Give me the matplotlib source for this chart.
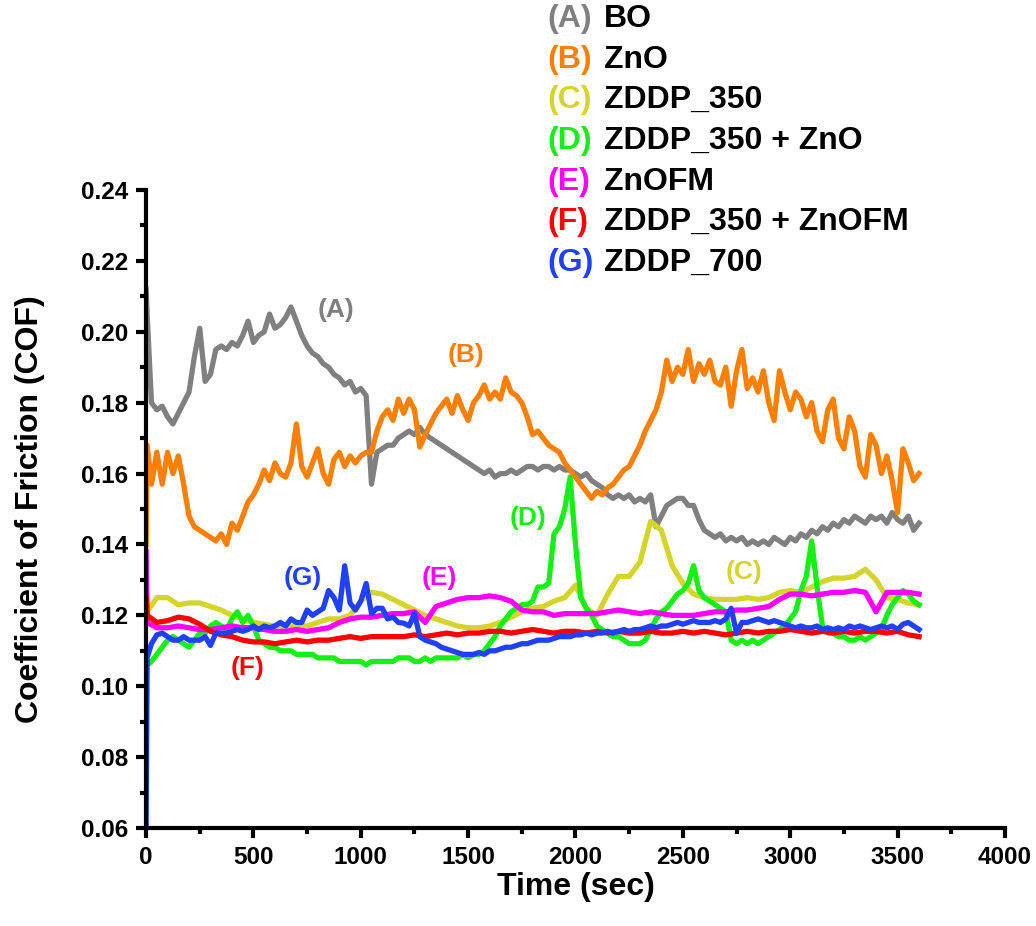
import numpy as np
import matplotlib
matplotlib.use('Agg')
import matplotlib.pyplot as plt
from matplotlib.ticker import MultipleLocator

plt.rcParams['font.family'] = ['Liberation Sans', 'DejaVu Sans']
plt.rcParams['font.weight'] = 'bold'

# time grids (sec)
t_fine = np.concatenate([[0, 5], np.arange(25, 3601, 25)])
t_coarse = np.concatenate([[0, 5], np.arange(50, 3601, 50)])

# (A) BO - on t_fine
cof_A = [0.212, 0.205,
         0.180, 0.178, 0.179, 0.176, 0.174, 0.177, 0.180, 0.183,
         0.193, 0.201, 0.186, 0.188, 0.195, 0.196, 0.195, 0.197,
         0.196, 0.199, 0.203, 0.197, 0.199, 0.200, 0.205, 0.201,
         0.202, 0.204, 0.207, 0.203, 0.199, 0.196, 0.194, 0.193,
         0.191, 0.190, 0.188, 0.187, 0.185, 0.186, 0.183, 0.184,
         0.182, 0.157, 0.166, 0.167, 0.168, 0.168, 0.170, 0.171,
         0.172, 0.171, 0.173, 0.171, 0.170, 0.169, 0.168, 0.167,
         0.166, 0.165, 0.164, 0.163, 0.162, 0.161, 0.160, 0.161,
         0.159, 0.160, 0.160, 0.161, 0.160, 0.161, 0.162, 0.162,
         0.161, 0.162, 0.162, 0.161, 0.162, 0.161, 0.161, 0.160,
         0.159, 0.160, 0.158, 0.157, 0.156, 0.154, 0.153, 0.154,
         0.153, 0.154, 0.152, 0.153, 0.152, 0.154, 0.145, 0.148,
         0.151, 0.152, 0.153, 0.153, 0.151, 0.151, 0.147, 0.144,
         0.143, 0.142, 0.143, 0.141, 0.142, 0.141, 0.142, 0.140,
         0.141, 0.140, 0.141, 0.140, 0.142, 0.141, 0.140, 0.142,
         0.141, 0.143, 0.142, 0.144, 0.143, 0.145, 0.144, 0.146,
         0.145, 0.147, 0.146, 0.148, 0.147, 0.146, 0.148, 0.147,
         0.148, 0.146, 0.149, 0.147, 0.146, 0.148, 0.144, 0.146]

# (B) ZnO - on t_fine
cof_B = [0.140, 0.168,
         0.157, 0.166, 0.157, 0.166, 0.160, 0.165, 0.157, 0.148,
         0.145, 0.144, 0.143, 0.142, 0.141, 0.143, 0.140, 0.146,
         0.144, 0.148, 0.152, 0.154, 0.157, 0.161, 0.158, 0.163,
         0.160, 0.159, 0.163, 0.174, 0.162, 0.159, 0.163, 0.167,
         0.160, 0.157, 0.164, 0.166, 0.162, 0.165, 0.163, 0.165,
         0.166, 0.166, 0.172, 0.176, 0.178, 0.175, 0.181, 0.177,
         0.181, 0.178, 0.1675, 0.171, 0.174, 0.177, 0.179, 0.181,
         0.177, 0.182, 0.178, 0.175, 0.180, 0.182, 0.185, 0.181,
         0.183, 0.181, 0.187, 0.183, 0.182, 0.180, 0.176, 0.171,
         0.172, 0.170, 0.168, 0.167, 0.166, 0.163, 0.161, 0.159,
         0.157, 0.155, 0.153, 0.155, 0.154, 0.156, 0.157, 0.159,
         0.161, 0.162, 0.165, 0.168, 0.172, 0.175, 0.178, 0.183,
         0.192, 0.186, 0.190, 0.188, 0.195, 0.186, 0.191, 0.188,
         0.192, 0.186, 0.185, 0.190, 0.179, 0.189, 0.195, 0.184,
         0.187, 0.183, 0.189, 0.180, 0.175, 0.189, 0.183, 0.178,
         0.183, 0.181, 0.176, 0.180, 0.172, 0.169, 0.178, 0.181,
         0.170, 0.167, 0.176, 0.172, 0.162, 0.159, 0.171, 0.168,
         0.160, 0.165, 0.158, 0.149, 0.167, 0.163, 0.158, 0.160]

# (C) ZDDP_350 - on t_coarse
cof_C = [0.119, 0.121,
         0.125, 0.125, 0.123, 0.1235, 0.1235, 0.1225, 0.1215, 0.120,
         0.119, 0.118, 0.1175, 0.117, 0.117, 0.117, 0.117, 0.118,
         0.119, 0.119, 0.120, 0.124, 0.1265, 0.126, 0.1245, 0.123,
         0.1215, 0.120, 0.119, 0.118, 0.117, 0.1165, 0.1165, 0.117,
         0.118, 0.1195, 0.121, 0.122, 0.1225, 0.124, 0.125, 0.1285,
         0.122, 0.120, 0.126, 0.131, 0.131, 0.135, 0.1465, 0.144,
         0.134, 0.129, 0.126, 0.125, 0.1245, 0.1245, 0.1245, 0.125,
         0.1245, 0.125, 0.1265, 0.127, 0.1265, 0.128, 0.1295, 0.1305,
         0.1305, 0.131, 0.133, 0.130, 0.125, 0.1245, 0.1235, 0.123]

# (D) ZDDP_350 + ZnO - on t_fine
cof_D = [0.105, 0.106,
         0.107, 0.109, 0.111, 0.113, 0.114, 0.113, 0.112, 0.111,
         0.113, 0.115, 0.115, 0.117, 0.118, 0.117, 0.116, 0.119,
         0.121, 0.118, 0.120, 0.117, 0.113, 0.112, 0.111, 0.111,
         0.110, 0.110, 0.110, 0.109, 0.109, 0.109, 0.109, 0.108,
         0.108, 0.108, 0.108, 0.107, 0.107, 0.107, 0.107, 0.107,
         0.106, 0.107, 0.107, 0.107, 0.107, 0.107, 0.108, 0.108,
         0.108, 0.107, 0.107, 0.108, 0.107, 0.108, 0.108, 0.108,
         0.108, 0.108, 0.109, 0.108, 0.109, 0.109, 0.110, 0.112,
         0.114, 0.117, 0.119, 0.121, 0.122, 0.123, 0.123, 0.124,
         0.128, 0.128, 0.129, 0.143, 0.145, 0.150, 0.159, 0.140,
         0.125, 0.122, 0.120, 0.117, 0.116, 0.115, 0.114, 0.114,
         0.113, 0.112, 0.112, 0.112, 0.113, 0.116, 0.119, 0.121,
         0.122, 0.124, 0.126, 0.127, 0.129, 0.134, 0.127, 0.125,
         0.124, 0.123, 0.122, 0.121, 0.113, 0.112, 0.113, 0.112,
         0.113, 0.112, 0.113, 0.114, 0.115, 0.116, 0.117, 0.119,
         0.121, 0.127, 0.131, 0.141, 0.128, 0.117, 0.115, 0.115,
         0.114, 0.114, 0.113, 0.113, 0.114, 0.113, 0.114, 0.115,
         0.116, 0.120, 0.123, 0.125, 0.127, 0.126, 0.124, 0.123]

# (E) ZnOFM - on t_coarse
cof_E = [0.138, 0.118,
         0.1165, 0.1165, 0.117, 0.1165, 0.116, 0.116, 0.1165, 0.117,
         0.1165, 0.1165, 0.116, 0.1155, 0.1155, 0.116, 0.1155, 0.116,
         0.1165, 0.118, 0.119, 0.1195, 0.1195, 0.120, 0.1205, 0.1205,
         0.121, 0.118, 0.1225, 0.1235, 0.1245, 0.125, 0.125, 0.1255,
         0.125, 0.124, 0.1215, 0.121, 0.121, 0.120, 0.1205, 0.1205,
         0.1205, 0.1205, 0.121, 0.1215, 0.121, 0.1205, 0.121, 0.1205,
         0.120, 0.120, 0.120, 0.1205, 0.121, 0.121, 0.1215, 0.1215,
         0.122, 0.1225, 0.1245, 0.126, 0.126, 0.1255, 0.126, 0.1265,
         0.1265, 0.127, 0.1265, 0.121, 0.1265, 0.1265, 0.1265, 0.126]

# (F) ZDDP_350 + ZnOFM - on t_coarse
cof_F = [0.125, 0.120,
         0.118, 0.1185, 0.1195, 0.119, 0.1175, 0.1155, 0.1145, 0.114,
         0.113, 0.1125, 0.1125, 0.112, 0.1125, 0.113, 0.1125, 0.113,
         0.113, 0.1135, 0.114, 0.1135, 0.114, 0.114, 0.114, 0.114,
         0.1145, 0.114, 0.1145, 0.115, 0.1145, 0.115, 0.115, 0.1155,
         0.1155, 0.115, 0.1155, 0.116, 0.1155, 0.115, 0.1155, 0.1155,
         0.115, 0.1155, 0.115, 0.1155, 0.115, 0.115, 0.1155, 0.115,
         0.115, 0.1155, 0.115, 0.1155, 0.115, 0.1145, 0.115, 0.1155,
         0.115, 0.1155, 0.1155, 0.116, 0.1155, 0.115, 0.1155, 0.115,
         0.1155, 0.115, 0.1155, 0.1155, 0.115, 0.1155, 0.1145, 0.114]

# (G) ZDDP_700 - on t_fine
cof_G = [0.060, 0.108,
         0.112, 0.1145, 0.115, 0.114, 0.113, 0.113, 0.114, 0.113,
         0.113, 0.113, 0.114, 0.1115, 0.115, 0.115, 0.115, 0.1155,
         0.116, 0.1155, 0.116, 0.117, 0.116, 0.117, 0.1165, 0.117,
         0.118, 0.117, 0.119, 0.118, 0.118, 0.1215, 0.120, 0.121,
         0.122, 0.127, 0.125, 0.1215, 0.134, 0.1235, 0.1215, 0.124,
         0.129, 0.1205, 0.122, 0.122, 0.119, 0.1195, 0.118, 0.1178,
         0.117, 0.1205, 0.114, 0.113, 0.1125, 0.112, 0.111, 0.1105,
         0.110, 0.1095, 0.109, 0.109, 0.109, 0.1095, 0.109, 0.110,
         0.110, 0.1105, 0.111, 0.111, 0.1115, 0.112, 0.112, 0.1125,
         0.113, 0.113, 0.113, 0.1135, 0.114, 0.114, 0.114, 0.1145,
         0.1145, 0.115, 0.1145, 0.115, 0.115, 0.1155, 0.115, 0.1155,
         0.116, 0.1155, 0.116, 0.116, 0.1165, 0.117, 0.1165, 0.117,
         0.117, 0.1175, 0.118, 0.1175, 0.118, 0.1185, 0.118, 0.118,
         0.118, 0.1185, 0.118, 0.119, 0.122, 0.115, 0.118, 0.118,
         0.1185, 0.119, 0.1185, 0.118, 0.1185, 0.118, 0.1175, 0.117,
         0.1165, 0.117, 0.1165, 0.1165, 0.117, 0.116, 0.1165, 0.116,
         0.1165, 0.116, 0.117, 0.1165, 0.117, 0.1165, 0.116, 0.1165,
         0.117, 0.1165, 0.117, 0.116, 0.1175, 0.118, 0.117, 0.116]

tags = ['(A)', '(B)', '(C)', '(D)', '(E)', '(F)', '(G)']
names = ['BO', 'ZnO', 'ZDDP_350', 'ZDDP_350 + ZnO', 'ZnOFM',
         'ZDDP_350 + ZnOFM', 'ZDDP_700']
colors = ['#808080', '#ff8000', '#d4d42a', '#14f014', '#ff00ff',
          '#ff0000', '#2040ff']

# in-plot tag positions (sec, COF)
tag_x = [886, 1492, 2783, 1781, 1366, 471, 732]
tag_y = [0.2061, 0.1934, 0.1322, 0.1475, 0.1305, 0.1051, 0.1305]

series = [(t_fine, cof_A), (t_fine, cof_B), (t_coarse, cof_C), (t_fine, cof_D),
          (t_coarse, cof_E), (t_coarse, cof_F), (t_fine, cof_G)]

fig = plt.figure(figsize=(10.36, 9.26), dpi=100)
ax = fig.add_axes([0.1410, 0.1058, 0.8290, 0.689])

for (tt, yy), c in zip(series, colors):
    ax.plot(tt, yy, color=c, lw=3.8, solid_joinstyle='round')

for i in range(7):
    ax.text(tag_x[i], tag_y[i], tags[i], color=colors[i], fontsize=19,
            fontweight='bold', ha='center', va='center')

# legend made of text rows above the axes
for i in range(7):
    yy = 1.2680 - i * 0.0637
    ax.text(0.467, yy, tags[i], color=colors[i], fontsize=23, fontweight='bold',
            transform=ax.transAxes, ha='left', va='center', clip_on=False)
    ax.text(0.533, yy, names[i], color='black', fontsize=23, fontweight='bold',
            transform=ax.transAxes, ha='left', va='center', clip_on=False)

ax.set_xlim(0, 4000)
ax.set_ylim(0.06, 0.24)
ax.xaxis.set_major_locator(MultipleLocator(500))
ax.xaxis.set_minor_locator(MultipleLocator(250))
ax.yaxis.set_major_locator(MultipleLocator(0.02))
ax.yaxis.set_minor_locator(MultipleLocator(0.01))
ax.yaxis.set_major_formatter(plt.FuncFormatter(lambda v, p: '%.2f' % v))

for s in ['top', 'right']:
    ax.spines[s].set_visible(False)
for s in ['left', 'bottom']:
    ax.spines[s].set_linewidth(3)
ax.tick_params(which='major', direction='out', length=7, width=3, labelsize=17.5, pad=6)
ax.tick_params(which='minor', direction='out', length=4, width=3)
for lab in ax.get_xticklabels() + ax.get_yticklabels():
    lab.set_fontweight('bold')

ax.set_xlabel('Time (sec)', fontsize=23, fontweight='bold', labelpad=2)
ax.set_ylabel('Coefficient of Friction (COF)', fontsize=23, fontweight='bold', labelpad=26)

fig.savefig('out.png', dpi=100)
